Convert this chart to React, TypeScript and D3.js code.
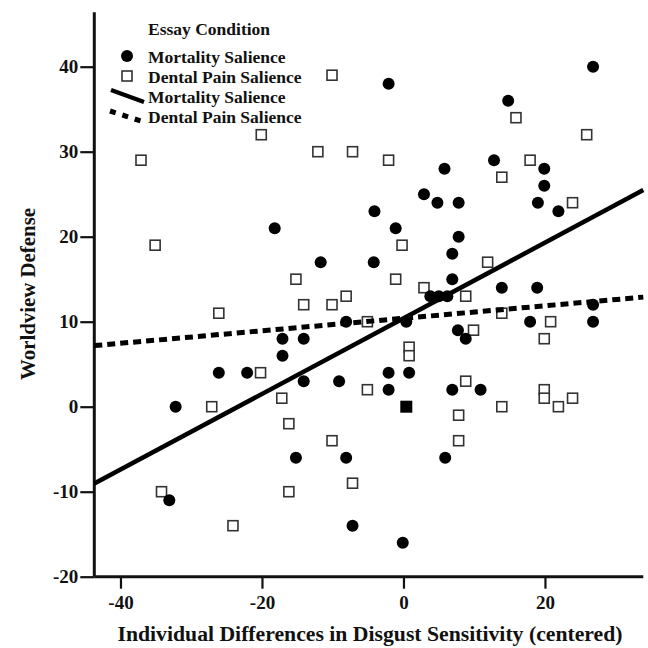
import React, { useEffect, useRef } from 'react';
import * as d3 from 'd3';

// Essay condition: mortality salience (filled circles)
const msX = [26.8, -2.1, 14.8, 5.8, 12.8, 19.9, 19.9, 2.9, 4.8, 7.8, -4.1, 19.0, 21.9, -1.1, 7.8, 6.9, -4.2, 6.9, 13.9, 18.9, 3.8, 5.0, 6.2, 26.8, 26.8, -8.1, 0.4, 17.9, 7.7, 8.8, -2.1, 0.8, -2.1, 6.9, 10.9, -18.2, -11.7, -17.1, -14.1, -17.1, -26.1, -22.1, -14.1, -9.1, -32.2, -15.2, -8.1, -33.1, -7.2, 5.9, -0.1];
const msY = [40, 38, 36, 28, 29, 28, 26, 25, 24, 24, 23, 24, 23, 21, 20, 18, 17, 15, 14, 14, 13, 13, 13, 12, 10, 10, 10, 10, 9, 8, 4, 4, 2, 2, 2, 21, 17, 8, 8, 6, 4, 4, 3, 3, 0, -6, -6, -11, -14, -6, -16];

// Essay condition: dental pain salience (open squares)
const dpX = [-10.1, -37.1, -20.1, -12.1, -7.2, -2.1, 15.9, 25.9, 17.9, 13.9, 23.9, -0.2, -1.1, 11.9, 2.9, -8.1, 8.8, 13.9, -5.1, 20.8, 9.9, 19.9, 0.8, 0.8, 8.8, -35.1, -15.2, -14.1, -10.1, -26.1, -20.2, -27.1, -17.2, -16.2, -10.1, -7.2, -34.2, -16.2, -24.1, -5.1, 7.8, 7.8, 13.9, 19.9, 19.9, 21.9, 23.9];
const dpY = [39, 29, 32, 30, 30, 29, 34, 32, 29, 27, 24, 19, 15, 17, 14, 13, 13, 11, 10, 10, 9, 8, 7, 6, 3, 19, 15, 12, 12, 11, 4, 0, 1, -2, -4, -9, -10, -10, -14, 2, -1, -4, 0, 2, 1, 0, 1];

// overlapping point drawn as a filled square
const overlapX = [0.4];
const overlapY = [0];

// fit lines: intercept and slope
const msFit = [10.4, 0.445];
const dpFit = [10.4, 0.0735];

const xTicks = [-40, -20, 0, 20];
const yTicks = [-20, -10, 0, 10, 20, 30, 40];

const legendLabels = ['Mortality Salience', 'Dental Pain Salience'];

const W = 648;
const H = 648;
const SERIF = '"Liberation Serif", "Times New Roman", serif';

export default function App() {
  const ref = useRef<SVGSVGElement>(null);

  useEffect(() => {
    const svg = d3.select(ref.current);
    svg.selectAll('*').remove();

    const x = d3.scaleLinear().domain([-43.7, 33.9]).range([94.3, 643.3]);
    const y = d3.scaleLinear().domain([-20, 46.4]).range([576.7, 12.3]);

    // axes (hyphen minus like the original, not d3's unicode minus)
    const fmt = (d: any) => String(d);
    const yAxis = svg.append('g')
      .attr('transform', `translate(${x(-43.7)},0)`)
      .call(d3.axisLeft(y).tickValues(yTicks).tickSize(14).tickPadding(2).tickFormat(fmt));
    const xAxis = svg.append('g')
      .attr('transform', `translate(0,${y(-20)})`)
      .call(d3.axisBottom(x).tickValues(xTicks).tickSize(12).tickPadding(7).tickFormat(fmt));

    [yAxis, xAxis].forEach(g => {
      g.select('.domain').attr('stroke', '#111').attr('stroke-width', 3);
      g.selectAll('.tick line').attr('stroke', '#111').attr('stroke-width', 2.2);
      g.selectAll('.tick text')
        .attr('fill', '#111')
        .style('font-family', SERIF)
        .style('font-weight', 'bold')
        .style('font-size', '19px');
    });
    xAxis.select('.domain').attr('d', `M${x(-43.7)},0H${x(33.9)}`);
    yAxis.select('.domain').attr('d', `M0,${y(-20)}V${y(46.4)}`);

    // axis titles
    svg.append('text')
      .attr('x', 370).attr('y', 641)
      .attr('text-anchor', 'middle')
      .attr('textLength', 505).attr('lengthAdjust', 'spacingAndGlyphs')
      .style('font-family', SERIF).style('font-weight', 'bold').style('font-size', '20px')
      .attr('fill', '#111')
      .text('Individual Differences in Disgust Sensitivity (centered)');
    svg.append('text')
      .attr('transform', 'translate(34.5,294) rotate(-90)')
      .attr('text-anchor', 'middle')
      .attr('textLength', 172).attr('lengthAdjust', 'spacingAndGlyphs')
      .style('font-family', SERIF).style('font-weight', 'bold').style('font-size', '20px')
      .attr('fill', '#111')
      .text('Worldview Defense');

    // points
    const plot = svg.append('g');
    plot.selectAll('rect.dp')
      .data(d3.range(dpX.length))
      .join('rect')
      .attr('class', 'dp')
      .attr('x', i => x(dpX[i]) - 5)
      .attr('y', i => y(dpY[i]) - 5)
      .attr('width', 10).attr('height', 10)
      .attr('fill', '#fff')
      .attr('stroke', '#333')
      .attr('stroke-width', 1.6);

    plot.selectAll('circle.ms')
      .data(d3.range(msX.length))
      .join('circle')
      .attr('class', 'ms')
      .attr('cx', i => x(msX[i]))
      .attr('cy', i => y(msY[i]))
      .attr('r', 6)
      .attr('fill', '#000');

    plot.selectAll('rect.ov')
      .data(d3.range(overlapX.length))
      .join('rect')
      .attr('class', 'ov')
      .attr('x', i => x(overlapX[i]) - 6)
      .attr('y', i => y(overlapY[i]) - 6)
      .attr('width', 12).attr('height', 12)
      .attr('fill', '#000');

    // fit lines
    const ends = x.domain();
    const line = d3.line<number>().x(d => x(d[0])).y(d => y(d[1]));
    const fitPts = (f: number[]) => ends.map(v => [v, f[0] + f[1] * v]);
    svg.append('path')
      .attr('d', line(fitPts(msFit) as any))
      .attr('fill', 'none').attr('stroke', '#000').attr('stroke-width', 4.5);
    svg.append('path')
      .attr('d', line(fitPts(dpFit) as any))
      .attr('fill', 'none').attr('stroke', '#000').attr('stroke-width', 5)
      .attr('stroke-dasharray', '8,5');

    // legend
    const lg = svg.append('g');
    const txt = (yy: number, s: string) => lg.append('text')
      .attr('x', 148).attr('y', yy)
      .style('font-family', SERIF).style('font-weight', 'bold').style('font-size', '17.5px')
      .attr('fill', '#111')
      .text(s);
    txt(35, 'Essay Condition');
    lg.append('circle').attr('cx', 127).attr('cy', 56).attr('r', 6).attr('fill', '#000');
    txt(63, legendLabels[0]);
    lg.append('rect').attr('x', 122).attr('y', 71).attr('width', 10).attr('height', 10)
      .attr('fill', '#fff').attr('stroke', '#333').attr('stroke-width', 1.6);
    txt(83, legendLabels[1]);
    lg.append('line').attr('x1', 111).attr('y1', 90).attr('x2', 144).attr('y2', 102)
      .attr('stroke', '#000').attr('stroke-width', 4.5);
    txt(102.5, legendLabels[0]);
    lg.append('line').attr('x1', 110).attr('y1', 111).attr('x2', 144).attr('y2', 122)
      .attr('stroke', '#000').attr('stroke-width', 5).attr('stroke-dasharray', '6,7');
    txt(122.5, legendLabels[1]);
  }, []);

  return (
    <svg
      ref={ref}
      width={W}
      height={H}
      style={{ position: 'absolute', left: 0, top: 0, background: '#fff' }}
    />
  );
}
